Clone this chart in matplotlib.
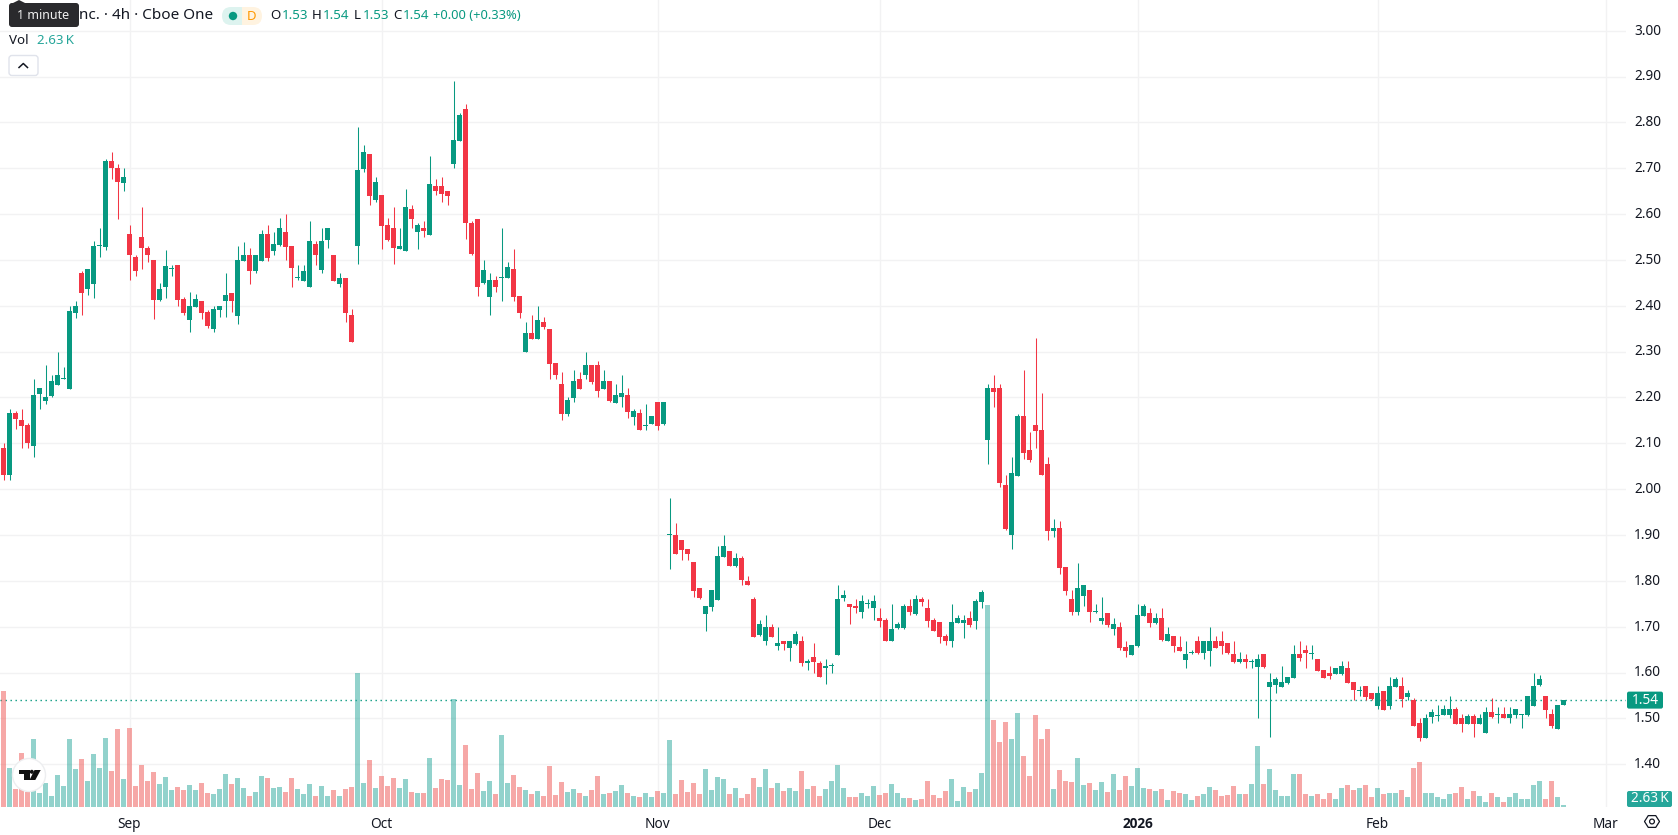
import matplotlib
matplotlib.use("Agg")
import matplotlib.pyplot as plt
import numpy as np
from matplotlib.patches import Circle, FancyBboxPatch, Polygon, Rectangle
from matplotlib.transforms import ScaledTranslation

plt.rcParams["font.family"] = ["Noto Sans", "DejaVu Sans"]

opens = [
    2.09, 2.03, 2.167, 2.15, 2.14, 2.095, 2.207, 2.193, 2.203, 2.227,
    2.24, 2.218, 2.385, 2.472, 2.436, 2.448, 2.53, 2.529, 2.716, 2.70,
    2.668, 2.557, 2.507, 2.55, 2.527, 2.50, 2.413, 2.44, 2.48, 2.49,
    2.415, 2.37, 2.398, 2.41, 2.387, 2.35, 2.39, 2.41, 2.427, 2.378,
    2.498, 2.51, 2.475, 2.498, 2.557, 2.52, 2.533, 2.561, 2.531, 2.46,
    2.454, 2.44, 2.535, 2.478, 2.544, 2.51, 2.448, 2.46, 2.381, 2.53,
    2.699, 2.73, 2.63, 2.642, 2.577, 2.57, 2.523, 2.52, 2.612, 2.56,
    2.57, 2.555, 2.662, 2.662, 2.65, 2.71, 2.76, 2.83, 2.58, 2.59,
    2.45, 2.42, 2.457, 2.46, 2.46, 2.48, 2.422, 2.30, 2.34, 2.327,
    2.364, 2.35, 2.275, 2.23, 2.164, 2.198, 2.24, 2.25, 2.27, 2.27,
    2.218, 2.235, 2.188, 2.20, 2.205, 2.157, 2.166, 2.138, 2.143, 2.19,
    2.143, 1.90, 1.90, 1.89, 1.87, 1.842, 1.785, 1.728, 1.743, 1.759,
    1.852, 1.866, 1.833, 1.85, 1.80, 1.761, 1.682, 1.67, 1.70, 1.658,
    1.67, 1.654, 1.663, 1.67, 1.62, 1.634, 1.622, 1.61, 1.614, 1.639,
    1.763, 1.75, 1.746, 1.733, 1.75, 1.74, 1.72, 1.715, 1.67, 1.698,
    1.698, 1.746, 1.728, 1.761, 1.741, 1.715, 1.71, 1.68, 1.67, 1.708,
    1.708, 1.72, 1.713, 1.754, 2.107, 2.22, 2.22, 2.01, 1.90, 2.028,
    2.159, 2.085, 2.14, 2.13, 2.054, 1.908, 1.915, 1.83, 1.76, 1.732,
    1.767, 1.78, 1.732, 1.712, 1.73, 1.696, 1.70, 1.655, 1.638, 1.657,
    1.723, 1.73, 1.708, 1.718, 1.668, 1.68, 1.655, 1.627, 1.642, 1.67,
    1.642, 1.647, 1.67, 1.67, 1.664, 1.64, 1.623, 1.63, 1.624, 1.612,
    1.64, 1.568, 1.573, 1.568, 1.578, 1.588, 1.64, 1.65, 1.64, 1.63,
    1.605, 1.60, 1.597, 1.597, 1.61, 1.58, 1.56, 1.57, 1.555, 1.527,
    1.56, 1.527, 1.568, 1.57, 1.547, 1.54, 1.49, 1.457, 1.503, 1.505,
    1.507, 1.507, 1.52, 1.50, 1.488, 1.505, 1.488, 1.468, 1.514, 1.507,
    1.51, 1.50, 1.507, 1.508, 1.507, 1.527, 1.573, 1.55, 1.51, 1.477,
    1.53,
]
highs = [
    2.10, 2.175, 2.17, 2.176, 2.145, 2.24, 2.22, 2.27, 2.25, 2.30,
    2.266, 2.40, 2.41, 2.476, 2.481, 2.542, 2.57, 2.72, 2.735, 2.71,
    2.70, 2.577, 2.51, 2.616, 2.531, 2.50, 2.45, 2.522, 2.49, 2.49,
    2.42, 2.43, 2.426, 2.41, 2.39, 2.40, 2.40, 2.472, 2.427, 2.53,
    2.54, 2.525, 2.51, 2.566, 2.577, 2.561, 2.592, 2.60, 2.531, 2.49,
    2.49, 2.585, 2.542, 2.57, 2.57, 2.51, 2.472, 2.46, 2.392, 2.79,
    2.75, 2.73, 2.68, 2.642, 2.592, 2.616, 2.57, 2.655, 2.62, 2.581,
    2.585, 2.727, 2.677, 2.68, 2.65, 2.89, 2.82, 2.84, 2.585, 2.59,
    2.50, 2.472, 2.466, 2.57, 2.496, 2.523, 2.422, 2.364, 2.38, 2.40,
    2.375, 2.35, 2.275, 2.255, 2.20, 2.26, 2.255, 2.30, 2.27, 2.28,
    2.26, 2.235, 2.23, 2.25, 2.22, 2.175, 2.175, 2.186, 2.16, 2.19,
    2.19, 1.98, 1.927, 1.89, 1.87, 1.842, 1.785, 1.746, 1.78, 1.876,
    1.90, 1.866, 1.861, 1.855, 1.811, 1.765, 1.715, 1.726, 1.706, 1.70,
    1.67, 1.67, 1.69, 1.68, 1.63, 1.665, 1.626, 1.63, 1.62, 1.79,
    1.78, 1.75, 1.761, 1.77, 1.761, 1.77, 1.741, 1.72, 1.75, 1.71,
    1.75, 1.76, 1.77, 1.765, 1.761, 1.72, 1.71, 1.685, 1.75, 1.726,
    1.726, 1.735, 1.761, 1.78, 2.229, 2.25, 2.229, 2.03, 2.07, 2.165,
    2.26, 2.124, 2.33, 2.21, 2.07, 1.935, 1.93, 1.83, 1.78, 1.84,
    1.79, 1.78, 1.75, 1.765, 1.73, 1.718, 1.71, 1.67, 1.66, 1.75,
    1.75, 1.74, 1.73, 1.74, 1.70, 1.68, 1.68, 1.67, 1.65, 1.68,
    1.67, 1.70, 1.68, 1.69, 1.664, 1.67, 1.645, 1.64, 1.63, 1.64,
    1.64, 1.60, 1.59, 1.615, 1.59, 1.66, 1.67, 1.66, 1.66, 1.63,
    1.605, 1.615, 1.61, 1.625, 1.625, 1.58, 1.57, 1.57, 1.555, 1.57,
    1.56, 1.59, 1.59, 1.59, 1.562, 1.544, 1.50, 1.51, 1.52, 1.53,
    1.53, 1.55, 1.525, 1.51, 1.51, 1.51, 1.51, 1.525, 1.544, 1.525,
    1.525, 1.525, 1.52, 1.51, 1.55, 1.60, 1.595, 1.55, 1.52, 1.53,
    1.54,
]
lows = [
    2.02, 2.02, 2.131, 2.09, 2.09, 2.07, 2.176, 2.186, 2.20, 2.227,
    2.24, 2.218, 2.373, 2.381, 2.423, 2.416, 2.507, 2.522, 2.677, 2.59,
    2.65, 2.457, 2.466, 2.481, 2.496, 2.372, 2.41, 2.416, 2.466, 2.40,
    2.38, 2.342, 2.398, 2.372, 2.352, 2.342, 2.375, 2.376, 2.387, 2.36,
    2.498, 2.447, 2.472, 2.498, 2.497, 2.51, 2.53, 2.50, 2.441, 2.457,
    2.454, 2.44, 2.49, 2.472, 2.526, 2.454, 2.441, 2.365, 2.32, 2.492,
    2.692, 2.62, 2.627, 2.523, 2.542, 2.492, 2.523, 2.52, 2.57, 2.523,
    2.55, 2.555, 2.642, 2.627, 2.62, 2.70, 2.76, 2.546, 2.51, 2.422,
    2.448, 2.38, 2.43, 2.41, 2.46, 2.41, 2.373, 2.30, 2.327, 2.327,
    2.35, 2.24, 2.24, 2.15, 2.16, 2.19, 2.218, 2.24, 2.23, 2.20,
    2.218, 2.19, 2.188, 2.18, 2.155, 2.14, 2.13, 2.13, 2.143, 2.13,
    2.14, 1.826, 1.859, 1.846, 1.846, 1.765, 1.76, 1.69, 1.735, 1.759,
    1.852, 1.833, 1.83, 1.79, 1.79, 1.678, 1.68, 1.66, 1.678, 1.65,
    1.65, 1.626, 1.66, 1.615, 1.606, 1.60, 1.59, 1.576, 1.60, 1.639,
    1.757, 1.706, 1.73, 1.72, 1.74, 1.715, 1.70, 1.67, 1.67, 1.695,
    1.695, 1.726, 1.726, 1.746, 1.70, 1.69, 1.665, 1.66, 1.656, 1.708,
    1.676, 1.70, 1.695, 1.741, 2.055, 2.18, 2.004, 1.91, 1.87, 2.028,
    2.065, 2.06, 2.09, 2.03, 1.89, 1.895, 1.815, 1.77, 1.725, 1.725,
    1.745, 1.71, 1.73, 1.705, 1.70, 1.682, 1.65, 1.634, 1.638, 1.655,
    1.723, 1.70, 1.705, 1.67, 1.668, 1.645, 1.647, 1.61, 1.64, 1.64,
    1.63, 1.615, 1.653, 1.64, 1.64, 1.62, 1.62, 1.61, 1.61, 1.50,
    1.61, 1.46, 1.555, 1.568, 1.575, 1.588, 1.625, 1.61, 1.63, 1.603,
    1.588, 1.586, 1.597, 1.595, 1.577, 1.54, 1.55, 1.54, 1.54, 1.52,
    1.518, 1.52, 1.568, 1.525, 1.54, 1.483, 1.45, 1.457, 1.49, 1.495,
    1.507, 1.50, 1.488, 1.47, 1.488, 1.46, 1.488, 1.468, 1.50, 1.49,
    1.50, 1.49, 1.50, 1.48, 1.505, 1.527, 1.57, 1.50, 1.48, 1.477,
    1.53,
]
closes = [
    2.03, 2.167, 2.153, 2.138, 2.10, 2.205, 2.22, 2.20, 2.235, 2.25,
    2.243, 2.388, 2.40, 2.429, 2.481, 2.531, 2.53, 2.716, 2.70, 2.67,
    2.68, 2.51, 2.475, 2.525, 2.51, 2.413, 2.437, 2.486, 2.48, 2.413,
    2.385, 2.40, 2.415, 2.385, 2.355, 2.392, 2.40, 2.423, 2.41, 2.50,
    2.51, 2.475, 2.51, 2.557, 2.505, 2.535, 2.57, 2.529, 2.483, 2.46,
    2.476, 2.542, 2.51, 2.542, 2.57, 2.454, 2.46, 2.385, 2.32, 2.696,
    2.735, 2.64, 2.67, 2.575, 2.544, 2.525, 2.531, 2.616, 2.59, 2.577,
    2.563, 2.666, 2.65, 2.644, 2.64, 2.762, 2.816, 2.58, 2.514, 2.44,
    2.477, 2.457, 2.44, 2.46, 2.485, 2.42, 2.385, 2.34, 2.327, 2.37,
    2.353, 2.272, 2.25, 2.164, 2.194, 2.235, 2.218, 2.27, 2.233, 2.214,
    2.235, 2.192, 2.205, 2.21, 2.168, 2.17, 2.13, 2.14, 2.16, 2.138,
    2.19, 1.90, 1.859, 1.868, 1.859, 1.778, 1.763, 1.746, 1.78, 1.855,
    1.876, 1.833, 1.85, 1.802, 1.79, 1.678, 1.706, 1.70, 1.678, 1.665,
    1.663, 1.67, 1.685, 1.62, 1.626, 1.624, 1.59, 1.615, 1.614, 1.761,
    1.77, 1.743, 1.74, 1.757, 1.75, 1.757, 1.713, 1.67, 1.695, 1.706,
    1.746, 1.733, 1.761, 1.754, 1.713, 1.69, 1.678, 1.67, 1.71, 1.72,
    1.715, 1.704, 1.757, 1.776, 2.22, 2.213, 2.013, 1.913, 2.035, 2.159,
    2.08, 2.063, 2.128, 2.032, 1.908, 1.915, 1.828, 1.777, 1.732, 1.784,
    1.79, 1.732, 1.733, 1.719, 1.703, 1.705, 1.653, 1.647, 1.66, 1.725,
    1.745, 1.708, 1.718, 1.672, 1.684, 1.658, 1.647, 1.64, 1.643, 1.642,
    1.67, 1.67, 1.653, 1.658, 1.642, 1.623, 1.63, 1.623, 1.625, 1.63,
    1.612, 1.58, 1.586, 1.58, 1.59, 1.64, 1.632, 1.643, 1.64, 1.603,
    1.588, 1.592, 1.61, 1.615, 1.577, 1.562, 1.56, 1.547, 1.542, 1.555,
    1.518, 1.57, 1.586, 1.542, 1.555, 1.483, 1.457, 1.50, 1.514, 1.505,
    1.52, 1.52, 1.488, 1.488, 1.505, 1.488, 1.50, 1.514, 1.503, 1.51,
    1.50, 1.51, 1.52, 1.508, 1.55, 1.57, 1.586, 1.518, 1.483, 1.53,
    1.54,
]
# volume in thousands
volumes = [
    153, 51, 24, 71, 20, 90, 18, 32, 15, 42,
    28, 90, 50, 63, 34, 70, 51, 91, 48, 103,
    37, 104, 28, 55, 34, 46, 30, 40, 22, 26,
    22, 29, 22, 32, 18, 17, 24, 44, 30, 38,
    25, 15, 20, 41, 38, 25, 26, 20, 38, 24,
    17, 30, 15, 28, 15, 22, 15, 24, 26, 177,
    32, 62, 25, 41, 28, 38, 25, 37, 20, 18,
    18, 65, 25, 37, 36, 143, 29, 82, 24, 45,
    21, 34, 17, 95, 32, 42, 26, 22, 17, 21,
    15, 54, 16, 33, 20, 24, 18, 15, 22, 41,
    17, 18, 21, 29, 18, 15, 13, 18, 13, 21,
    18, 88, 17, 36, 20, 32, 17, 50, 22, 40,
    37, 17, 25, 12, 17, 38, 26, 50, 25, 32,
    21, 25, 21, 48, 24, 28, 15, 24, 34, 55,
    25, 13, 13, 18, 15, 28, 16, 18, 30, 18,
    12, 12, 9, 11, 34, 16, 12, 21, 37, 8,
    26, 20, 24, 45, 267, 115, 86, 112, 90, 124,
    67, 41, 121, 90, 103, 24, 49, 34, 33, 65,
    29, 32, 22, 33, 20, 44, 22, 41, 28, 51,
    25, 24, 21, 24, 9, 21, 18, 17, 9, 15,
    17, 26, 22, 15, 16, 28, 17, 17, 30, 81,
    31, 50, 23, 15, 15, 43, 44, 17, 14, 17,
    11, 18, 10, 25, 29, 23, 25, 29, 13, 25,
    17, 18, 19, 22, 13, 52, 60, 18, 18, 13,
    10, 17, 18, 26, 10, 21, 15, 7, 18, 13,
    6, 13, 19, 11, 11, 29, 34, 11, 34, 13,
    2.63,
]

price_ticks = [1.40, 1.50, 1.60, 1.70, 1.80, 1.90, 2.00, 2.10, 2.20, 2.30, 2.40,
               2.50, 2.60, 2.70, 2.80, 2.90, 3.00]
date_tick_bars = [21, 63, 109, 146, 189, 229, 267]
date_tick_labels = ["Sep", "Oct", "Nov", "Dec", "2026", "Feb", "Mar"]

UP = "#089981"
DOWN = "#F23645"
VOL_UP = "#26A69A"
VOL_DOWN = "#EF5350"
GRID = "#F2F2F3"
INK = "#131722"

W, H = 1678, 835
PANE_W, PANE_H = 1626, 807
BAR_STEP = 6  # pixels per candle

o, h, l, c = map(np.array, (opens, highs, lows, closes))
vol = np.array(volumes)
idx = np.arange(len(c))
is_up = c >= o

fig = plt.figure(figsize=(W / 100, H / 100), dpi=100, facecolor="white")
ax = fig.add_axes([0, 1 - PANE_H / H, PANE_W / W, PANE_H / H])
ax_vol = ax.twinx()

ax.set_xlim(-3.5 / BAR_STEP, (PANE_W - 3.5) / BAR_STEP)
ax.set_ylim(1.40 - (PANE_H - 764.3) / 458.5, 1.40 + 764.3 / 458.5)
ax_vol.set_ylim(0, PANE_H * 1.32)

ax.set_axisbelow(True)
ax.grid(True, color=GRID, linewidth=1)
ax.yaxis.tick_right()
ax.set_yticks(price_ticks)
ax.set_yticklabels([f"{p:.2f}" for p in price_ticks])
ax.set_xticks(date_tick_bars)
ax.set_xticklabels(date_tick_labels)
ax.tick_params(axis="both", length=0, labelsize=9.8, labelcolor=INK)
ax.tick_params(axis="y", pad=6)
ax.tick_params(axis="x", pad=7.2)

# price labels sit centred on their grid lines
nudge = ScaledTranslation(0, 1.2 / 72, fig.dpi_scale_trans)
for label in ax.get_yticklabels():
    label.set_transform(label.get_transform() + nudge)
for label in ax.get_xticklabels():
    if label.get_text() == "2026":
        label.set_fontfamily(["Open Sans", "DejaVu Sans"])
        label.set_fontweight("bold")
ax_vol.set_yticks([])

for side in ("top", "right", "left", "bottom"):
    ax.spines[side].set_visible(False)
    ax_vol.spines[side].set_visible(False)

# candles: one pixel wicks, five pixel bodies, dojis keep a thin body
colors = np.where(is_up, UP, DOWN)
ax.vlines(idx, l, h, colors=colors, linewidth=0.75, zorder=3, snap=True)
body_h = np.maximum(np.abs(c - o), 0.0022)
ax.bar(idx, body_h, bottom=np.minimum(o, c), width=5 / BAR_STEP, color=colors, linewidth=0, zorder=4)

ax.axhline(c[-1], color=UP, linewidth=1, linestyle=(0, (1, 2.6)), zorder=2)

ax_vol.bar(idx, vol, width=5 / BAR_STEP, color=np.where(is_up, VOL_UP, VOL_DOWN), alpha=0.5, linewidth=0)

# interface layer, drawn in pixel coordinates
ui = fig.add_axes([0, 0, 1, 1], facecolor="none")
ui.set_xlim(0, W)
ui.set_ylim(H, 0)
ui.axis("off")

def pill(x0, y0, x1, y1, color, radius=2, **kw):
    ui.add_patch(FancyBboxPatch((x0 + radius, y0 + radius), x1 - x0 - 2 * radius, y1 - y0 - 2 * radius,
                                boxstyle=f"round,pad={radius},rounding_size={radius}",
                                facecolor=color, linewidth=0, **kw))

def px_text(x, y, s, color=INK, size=10, ha="left", **kw):
    ui.text(x, y, s, color=color, fontsize=size, ha=ha, va="center", **kw)

# legend row
px_text(79, 15.7, "nc. · 4h · Cboe One", size=11)
pill(222, 7, 250, 25, "#DDF3EF", radius=9)
pill(242, 7, 262, 25, "#FFF3E0", radius=9)
ui.add_patch(Rectangle((242, 7), 8, 18, facecolor="#FFF3E0", linewidth=0))
ui.add_patch(Circle((233, 16), 4.2, facecolor=UP, linewidth=0))
px_text(251.5, 16, "D", color="#FF9800", size=9.5, ha="center", fontweight="bold")

for x, s, col in [(270, "O", INK), (281.5, f"{o[-1]:.2f}", UP), (312, "H", INK), (323, f"{h[-1]:.2f}", UP),
                  (354, "L", INK), (362.5, f"{l[-1]:.2f}", UP), (393, "C", INK), (403, f"{c[-1]:.2f}", UP)]:
    px_text(x, 15.7, s, color=col, size=9.6)
px_text(433, 15.7, "+0.00 (+0.33%)", color=UP, size=9.3)

px_text(9, 40.5, "Vol", size=9.6)
px_text(37, 40.5, f"{vol[-1]:.2f}\u2009K", color=VOL_UP, size=9.6)

ui.add_patch(FancyBboxPatch((11, 57.5), 25, 16, boxstyle="round,pad=2,rounding_size=3",
                            facecolor="white", edgecolor="#E0E3EB", linewidth=1))
ui.plot([19, 23.3, 27.5], [67.5, 63.5, 67.5], color=INK, linewidth=1.1)

# tooltip over the start of the legend
pill(9, 3, 79, 27, "#2A2A2D", radius=3)
ui.add_patch(Polygon([(13, 3), (19, 0), (25, 3)], facecolor="#2A2A2D", linewidth=0))
px_text(43.5, 15.5, "1 minute", color="#F0F0F0", size=9, ha="center")

# last price and volume tags on the scale
last_y = H - ax.transData.transform((0, c[-1]))[1]
pill(1627, last_y - 8.5, 1663, last_y + 8.5, UP, radius=2)
px_text(1645, last_y, f"{c[-1]:.2f}", color="white", size=9.8, ha="center")
pill(1627, 791, 1672, 807, VOL_UP, radius=2)
px_text(1649.5, 798.7, f"{vol[-1]:.2f}\u2009K", color="white", size=9.8, ha="center")

# settings button under the price scale
angles = np.deg2rad(np.arange(0, 360, 60))
ui.add_patch(Polygon(np.c_[1652 + 7.5 * np.cos(angles), 821.5 + 6.8 * np.sin(angles)], closed=True,
                     fill=False, edgecolor=INK, linewidth=0.9, joinstyle="round"))
ui.add_patch(Circle((1652, 821.5), 2.4, fill=False, edgecolor=INK, linewidth=0.9))

# logo badge
ui.add_patch(Circle((29, 775), 16.5, facecolor="white", edgecolor="#EDEEF0", linewidth=1))
ui.add_patch(Rectangle((19, 770), 10.5, 4, facecolor="#111111", linewidth=0))
ui.add_patch(Rectangle((24, 770), 5.5, 10, facecolor="#111111", linewidth=0))
ui.add_patch(Circle((31.8, 771.8), 2, facecolor="#111111", linewidth=0))
ui.add_patch(Polygon([(34.5, 770), (40.7, 770), (35.3, 780), (29.5, 780)], facecolor="#111111", linewidth=0))

fig.savefig("out.png", dpi=100, facecolor="white")
